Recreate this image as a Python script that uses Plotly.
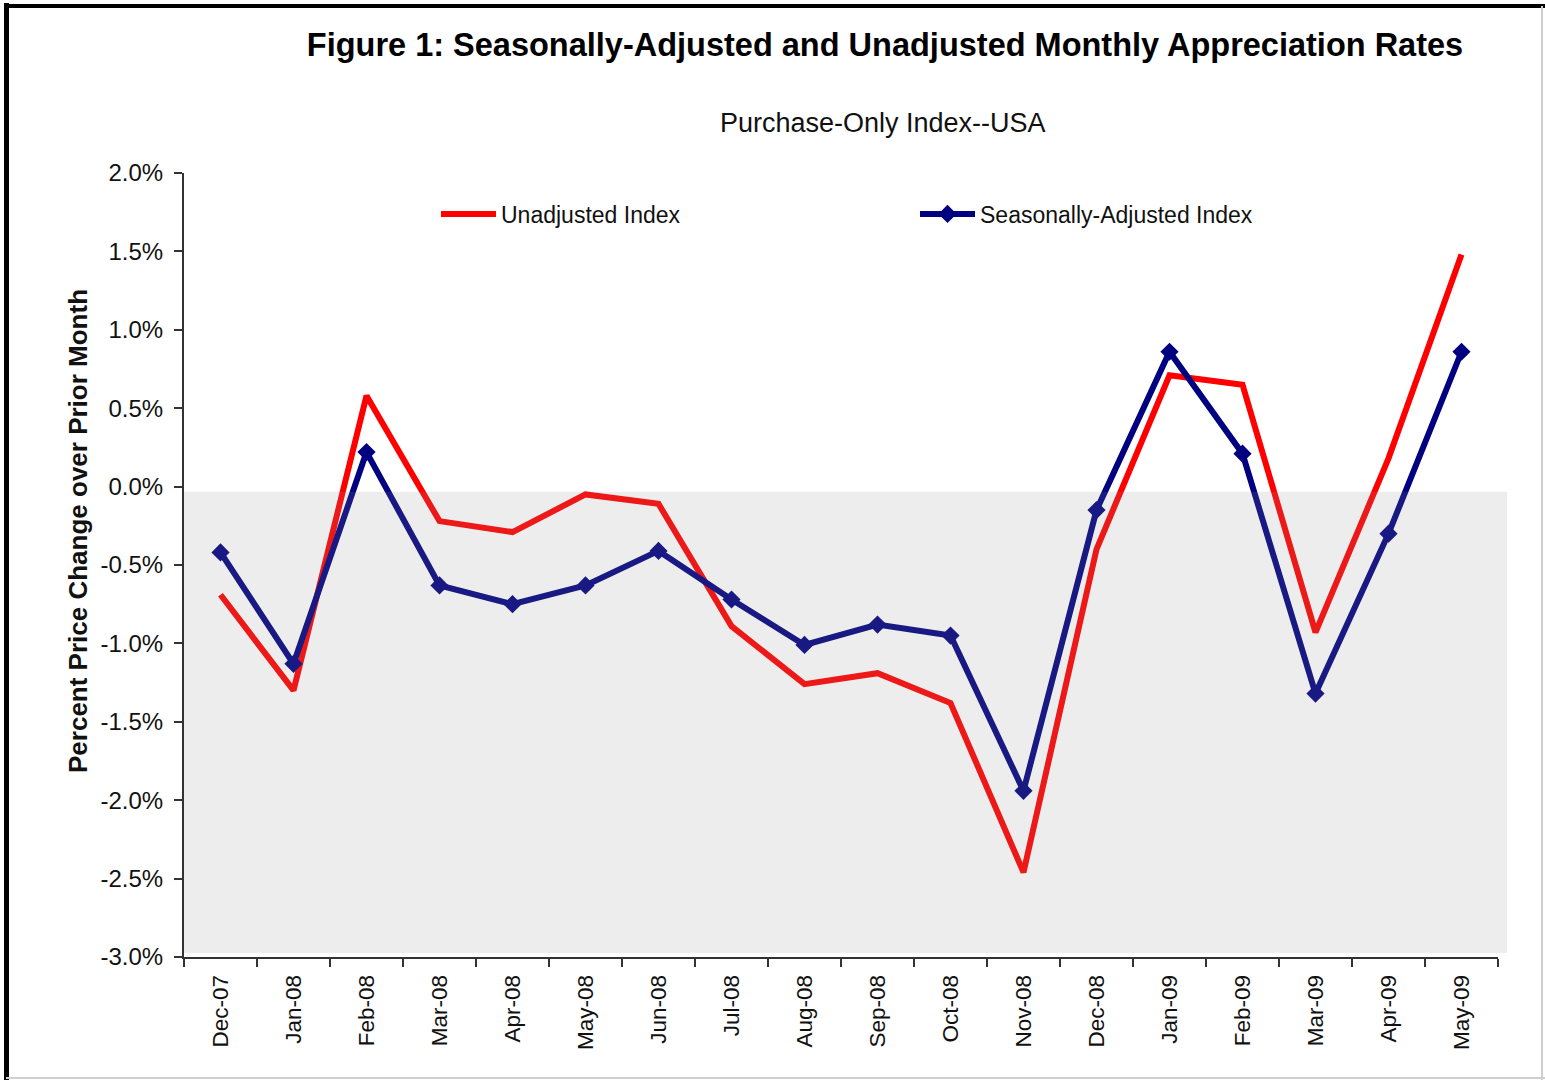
import plotly.graph_objects as go

months = ["Dec-07", "Jan-08", "Feb-08", "Mar-08", "Apr-08", "May-08", "Jun-08", "Jul-08",
          "Aug-08", "Sep-08", "Oct-08", "Nov-08", "Dec-08", "Jan-09", "Feb-09", "Mar-09",
          "Apr-09", "May-09"]
unadjusted = [-0.69, -1.30, 0.58, -0.22, -0.29, -0.05, -0.11, -0.89, -1.26, -1.19, -1.38,
              -2.46, -0.40, 0.71, 0.65, -0.93, 0.18, 1.48]
seasonally_adjusted = [-0.42, -1.13, 0.22, -0.63, -0.75, -0.63, -0.41, -0.72, -1.01, -0.88,
                       -0.95, -1.94, -0.15, 0.86, 0.21, -1.32, -0.30, 0.86]
ytick_vals = [2.0, 1.5, 1.0, 0.5, 0.0, -0.5, -1.0, -1.5, -2.0, -2.5, -3.0]
ytick_text = ["2.0%", "1.5%", "1.0%", "0.5%", "0.0%", "-0.5%", "-1.0%", "-1.5%", "-2.0%", "-2.5%", "-3.0%"]

W, H = 1545, 1080
L, R, T, B = 184, 1498, 173, 957

def px(x):
    return (x - L) / (R - L)

def py(y):
    return (B - y) / (B - T)

FONT = "Arial, Liberation Sans"

fig = go.Figure()
fig.add_trace(go.Scatter(x=months, y=unadjusted, mode="lines", name="Unadjusted Index",
                         line=dict(color="#FF0000", width=6), legend="legend"))
fig.add_trace(go.Scatter(x=months, y=seasonally_adjusted, mode="lines+markers",
                         name="Seasonally-Adjusted Index",
                         line=dict(color="#000080", width=6),
                         marker=dict(symbol="diamond", size=14, color="#000080"),
                         legend="legend2"))

shapes = [
    # shaded region (semi-transparent, drawn above the lines)
    dict(type="rect", xref="paper", yref="y", x0=0, x1=px(1507), y0=-2.975, y1=-0.033,
         fillcolor="rgba(150,150,150,0.17)", line=dict(width=0), layer="above"),
    # outer frame
    dict(type="line", xref="paper", yref="paper", x0=px(6.5), x1=px(6.5), y0=py(3), y1=py(1080),
         line=dict(color="black", width=5)),
    dict(type="line", xref="paper", yref="paper", x0=px(4), x1=px(1545), y0=py(6), y1=py(6),
         line=dict(color="black", width=4)),
    dict(type="line", xref="paper", yref="paper", x0=px(1542), x1=px(1542), y0=py(6), y1=py(1080),
         line=dict(color="#CFCFCF", width=2)),
    dict(type="line", xref="paper", yref="paper", x0=px(6), x1=px(1545), y0=py(1078), y1=py(1078),
         line=dict(color="#CFCFCF", width=2)),
]

annotations = [
    dict(text="Purchase-Only Index--USA", xref="paper", yref="paper", x=px(883), y=py(123),
         showarrow=False, font=dict(family=FONT, size=27, color="#111111"),
         xanchor="center", yanchor="middle"),
    dict(text="<b>Percent Price Change over Prior Month</b>", xref="paper", yref="paper",
         x=px(78), y=py(531), showarrow=False, textangle=-90,
         font=dict(family=FONT, size=26, color="#111111"),
         xanchor="center", yanchor="middle"),
]

fig.update_layout(
    width=W, height=H, autosize=False,
    margin=dict(l=L, r=W - R, t=T, b=H - B, pad=0),
    paper_bgcolor="white", plot_bgcolor="white",
    font=dict(family=FONT, color="#111111"),
    title=dict(text="<b>Figure 1: Seasonally-Adjusted and Unadjusted Monthly Appreciation Rates</b>",
               x=885 / W, xref="container", xanchor="center",
               y=1 - 45 / H, yref="container", yanchor="middle",
               font=dict(family=FONT, size=32.5, color="#000000")),
    xaxis=dict(type="category", range=[-0.5, 17.5], tickson="boundaries", ticks="outside",
               ticklen=8, tickwidth=2, tickcolor="#333333", showline=True, linecolor="#333333",
               linewidth=2, showgrid=False, zeroline=False, tickangle=-90, ticklabelstandoff=7,
               tickfont=dict(family=FONT, size=22.5, color="#111111")),
    yaxis=dict(range=[-3.0, 2.0], tickvals=ytick_vals, ticktext=ytick_text, ticks="outside",
               ticklen=8, tickwidth=2, tickcolor="#333333", showline=True, linecolor="#333333",
               linewidth=2, showgrid=False, zeroline=False, ticklabelstandoff=6,
               tickfont=dict(family=FONT, size=24, color="#111111")),
    legend=dict(x=px(436), y=py(214), xanchor="left", yanchor="middle", orientation="h",
                bgcolor="rgba(0,0,0,0)", itemwidth=55,
                font=dict(family=FONT, size=23, color="#111111")),
    legend2=dict(x=px(915), y=py(214), xanchor="left", yanchor="middle", orientation="h",
                 bgcolor="rgba(0,0,0,0)", itemwidth=55,
                 font=dict(family=FONT, size=23, color="#111111")),
    shapes=shapes,
    annotations=annotations,
    showlegend=True,
)

fig.write_html("out.html", config={"displayModeBar": False},
               post_script="document.body.style.margin='0';document.body.style.overflow='hidden';")
